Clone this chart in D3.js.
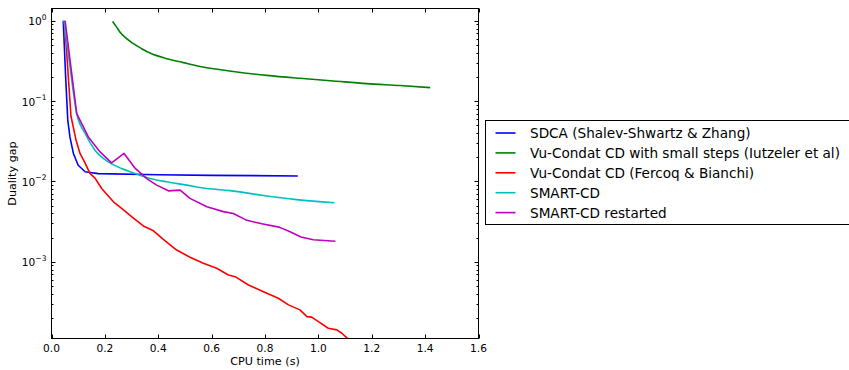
<!DOCTYPE html>
<html>
<head>
<meta charset="utf-8">
<script src="https://cdn.jsdelivr.net/npm/d3@7"></script>
<style>
    body { margin: 0; background: #fff; }
    svg { display: block; font-family: 'DejaVu Sans', sans-serif; }
</style>
</head>
<body>
<div id="chart"></div>
<script>
/* [CPU time (s), duality gap] */
const sdca = [
    [0.044, 1.0], [0.053, 0.2], [0.061, 0.058], [0.069, 0.0358], [0.082, 0.0223],
    [0.100, 0.0159], [0.126, 0.0132], [0.175, 0.0125], [0.40, 0.0121], [0.60, 0.0119],
    [0.923, 0.0117]
];
const vuCondatSmall = [
    [0.229, 0.98], [0.244, 0.833], [0.257, 0.721], [0.275, 0.625], [0.307, 0.518],
    [0.338, 0.449], [0.369, 0.396], [0.432, 0.337], [0.494, 0.301], [0.557, 0.270],
    [0.681, 0.234], [0.807, 0.209], [0.931, 0.192], [1.056, 0.178], [1.181, 0.165],
    [1.306, 0.156], [1.419, 0.147]
];
const vuCondat = [
    [0.049, 1.0], [0.063, 0.2], [0.073, 0.0647], [0.092, 0.0326], [0.107, 0.0223],
    [0.126, 0.0169], [0.144, 0.01257], [0.163, 0.011], [0.188, 0.00818], [0.232, 0.00558],
    [0.263, 0.00462], [0.301, 0.00363], [0.344, 0.00279], [0.382, 0.00243], [0.419, 0.0019],
    [0.469, 0.0014], [0.519, 0.00114], [0.569, 0.000958], [0.619, 0.00083], [0.663, 0.000686],
    [0.688, 0.000653], [0.738, 0.000515], [0.794, 0.000425], [0.850, 0.000352], [0.888, 0.000291],
    [0.931, 0.000252], [0.957, 0.000208], [0.975, 0.000205], [1.000, 0.00018], [1.037, 0.000149],
    [1.069, 0.000142], [1.088, 0.000129], [1.113, 0.000108]
];
const smartCd = [
    [0.047, 1.0], [0.071, 0.241], [0.0945, 0.070], [0.126, 0.0395], [0.163, 0.0245],
    [0.213, 0.0175], [0.263, 0.0145], [0.313, 0.01256], [0.369, 0.01089], [0.432, 0.00989],
    [0.507, 0.0090], [0.582, 0.00815], [0.669, 0.00769], [0.794, 0.00667], [0.919, 0.00594],
    [1.060, 0.00542]
];
const smartCdRestarted = [
    [0.051, 1.0], [0.0945, 0.070], [0.138, 0.0358], [0.182, 0.0233], [0.225, 0.017],
    [0.272, 0.0223], [0.313, 0.01463], [0.357, 0.01084], [0.394, 0.009], [0.438, 0.00764],
    [0.482, 0.0078], [0.519, 0.00615], [0.582, 0.00483], [0.644, 0.00421], [0.681, 0.004],
    [0.732, 0.00328], [0.788, 0.00297], [0.853, 0.0027], [0.894, 0.00236], [0.935, 0.00203],
    [0.981, 0.00188], [1.064, 0.0018]
];

const seriesNames = [
    'SDCA (Shalev-Shwartz & Zhang)',
    'Vu-Condat CD with small steps (Iutzeler et al)',
    'Vu-Condat CD (Fercoq & Bianchi)',
    'SMART-CD',
    'SMART-CD restarted'
];
const seriesData = [sdca, vuCondatSmall, vuCondat, smartCd, smartCdRestarted];
const seriesColors = ['#0000ff', '#008000', '#ff0000', '#00bfbf', '#bf00bf'];
/* the two smooth curves get a monotone curve, the rest stay polylines */
const seriesSmooth = [false, true, false, true, false];

const xTicks = [0, 0.2, 0.4, 0.6, 0.8, 1.0, 1.2, 1.4, 1.6];
const yMajorExp = [0, -1, -2, -3];

const width = 849, height = 370;
const plot = { left: 51.5, right: 478.5, top: 8.5, bottom: 338.5 };

const svg = d3.select('#chart')
    .append('svg')
    .attr('width', width)
    .attr('height', height);

const x = d3.scaleLinear()
    .domain([0, 1.6])
    .range([plot.left, plot.right]);

const y = d3.scaleLog()
    .domain([1.11e-4, 1.42])
    .range([plot.bottom, plot.top]);

svg.append('clipPath')
    .attr('id', 'plot-clip')
    .append('rect')
    .attr('x', plot.left)
    .attr('y', plot.top)
    .attr('width', plot.right - plot.left)
    .attr('height', plot.bottom - plot.top);

/* curves */
const linear = d3.line()
    .x((d) => x(d[0]))
    .y((d) => y(d[1]));
const smooth = d3.line()
    .curve(d3.curveMonotoneX)
    .x((d) => x(d[0]))
    .y((d) => y(d[1]));

svg.append('g')
    .attr('class', 'curves')
    .attr('clip-path', 'url(#plot-clip)')
    .selectAll('path')
    .data(seriesData)
    .enter().append('path')
    .attr('d', (d, i) => (seriesSmooth[i] ? smooth : linear)(d))
    .attr('fill', 'none')
    .attr('stroke', (d, i) => seriesColors[i])
    .attr('stroke-width', 1.6)
    .attr('stroke-linejoin', 'round');

/* frame and inward ticks on all four sides */
svg.append('rect')
    .attr('x', plot.left)
    .attr('y', plot.top)
    .attr('width', plot.right - plot.left)
    .attr('height', plot.bottom - plot.top)
    .attr('fill', 'none')
    .attr('stroke', '#000')
    .attr('stroke-width', 1);

const yMinor = [];
yMajorExp.concat([-4]).forEach((e) => {
    for (let k = 2; k <= 9; k++) {
        const v = k * Math.pow(10, e);
        if (v > y.domain()[0] && v < y.domain()[1]) yMinor.push(v);
    }
});

const tickG = svg.append('g')
    .attr('class', 'ticks')
    .attr('stroke', '#000')
    .attr('stroke-width', 1);

xTicks.forEach((t) => {
    const px = Math.round(x(t)) + 0.5;
    tickG.append('line').attr('x1', px).attr('x2', px).attr('y1', plot.bottom).attr('y2', plot.bottom - 4);
    tickG.append('line').attr('x1', px).attr('x2', px).attr('y1', plot.top).attr('y2', plot.top + 4);
});

yMajorExp.forEach((e) => {
    const py = Math.round(y(Math.pow(10, e))) + 0.5;
    tickG.append('line').attr('x1', plot.left).attr('x2', plot.left + 4).attr('y1', py).attr('y2', py);
    tickG.append('line').attr('x1', plot.right).attr('x2', plot.right - 4).attr('y1', py).attr('y2', py);
});

yMinor.forEach((v) => {
    const py = Math.round(y(v)) + 0.5;
    tickG.append('line').attr('x1', plot.left).attr('x2', plot.left + 2).attr('y1', py).attr('y2', py);
    tickG.append('line').attr('x1', plot.right).attr('x2', plot.right - 2).attr('y1', py).attr('y2', py);
});

/* tick labels */
svg.append('g')
    .selectAll('text')
    .data(xTicks)
    .enter().append('text')
    .attr('x', (d) => x(d))
    .attr('y', plot.bottom + 13)
    .attr('text-anchor', 'middle')
    .attr('font-size', 10.6)
    .text((d) => d.toFixed(1));

const yLabels = svg.append('g')
    .selectAll('text')
    .data(yMajorExp)
    .enter().append('text')
    .attr('x', plot.left - 5)
    .attr('y', (d) => y(Math.pow(10, d)) + 4.5)
    .attr('text-anchor', 'end')
    .attr('font-size', 10.6);
yLabels.append('tspan').text('10');
yLabels.append('tspan')
    .attr('dy', -5.5)
    .attr('font-size', 7.6)
    .text((d) => String(d).replace('-', '\u2212'));

/* axis titles */
svg.append('text')
    .attr('x', (plot.left + plot.right) / 2)
    .attr('y', 365)
    .attr('text-anchor', 'middle')
    .attr('font-size', 11.2)
    .text('CPU time (s)');

svg.append('text')
    .attr('transform', `translate(16,${(plot.top + plot.bottom) / 2}) rotate(-90)`)
    .attr('text-anchor', 'middle')
    .attr('font-size', 11.2)
    .text('Duality gap');

/* legend */
const legend = svg.append('g')
    .attr('class', 'legend')
    .attr('transform', 'translate(485.5,120.5)');

legend.append('rect')
    .attr('width', 380)
    .attr('height', 104)
    .attr('fill', '#fff')
    .attr('stroke', '#000')
    .attr('stroke-width', 1);

const rows = legend.selectAll('.row')
    .data(seriesNames)
    .enter().append('g')
    .attr('class', 'row')
    .attr('transform', (d, i) => `translate(0,${12.5 + i * 19.9})`);

rows.append('line')
    .attr('x1', 10)
    .attr('x2', 30)
    .attr('stroke', (d, i) => seriesColors[i])
    .attr('stroke-width', 1.6);

rows.append('text')
    .attr('x', 44.5)
    .attr('y', 5)
    .attr('font-size', 13.6)
    .text((d) => d);
</script>
</body>
</html>
